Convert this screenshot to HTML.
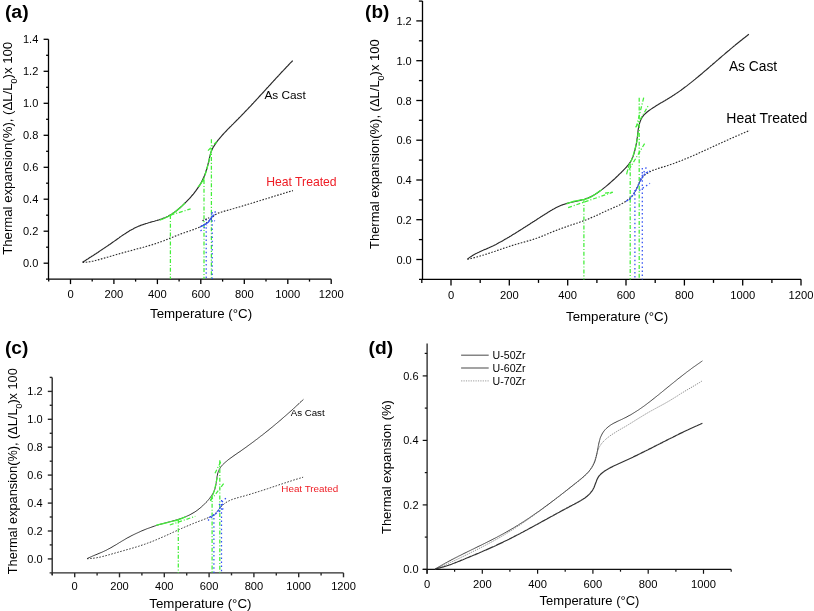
<!DOCTYPE html>
<html><head><meta charset="utf-8"><title>Thermal expansion curves</title>
<style>html,body{margin:0;padding:0;background:#fff;}svg{display:block;will-change:transform;}text{font-family:"Liberation Sans", sans-serif;}</style>
</head><body>
<svg width="814" height="611" viewBox="0 0 814 611">
<rect width="814" height="611" fill="#fff"/>
<line x1="48.5" y1="39.3" x2="48.5" y2="279.2" stroke="#000" stroke-width="1.30"/>
<line x1="46.0" y1="279.2" x2="331.2" y2="279.2" stroke="#000" stroke-width="1.30"/>
<line x1="70.5" y1="279.2" x2="70.5" y2="284.1" stroke="#000" stroke-width="1.30"/>
<line x1="113.9" y1="279.2" x2="113.9" y2="284.1" stroke="#000" stroke-width="1.30"/>
<line x1="157.4" y1="279.2" x2="157.4" y2="284.1" stroke="#000" stroke-width="1.30"/>
<line x1="200.8" y1="279.2" x2="200.8" y2="284.1" stroke="#000" stroke-width="1.30"/>
<line x1="244.3" y1="279.2" x2="244.3" y2="284.1" stroke="#000" stroke-width="1.30"/>
<line x1="287.8" y1="279.2" x2="287.8" y2="284.1" stroke="#000" stroke-width="1.30"/>
<line x1="331.2" y1="279.2" x2="331.2" y2="284.1" stroke="#000" stroke-width="1.30"/>
<line x1="48.7" y1="279.2" x2="48.7" y2="281.6" stroke="#000" stroke-width="1.30"/>
<line x1="92.2" y1="279.2" x2="92.2" y2="281.6" stroke="#000" stroke-width="1.30"/>
<line x1="135.6" y1="279.2" x2="135.6" y2="281.6" stroke="#000" stroke-width="1.30"/>
<line x1="179.1" y1="279.2" x2="179.1" y2="281.6" stroke="#000" stroke-width="1.30"/>
<line x1="222.6" y1="279.2" x2="222.6" y2="281.6" stroke="#000" stroke-width="1.30"/>
<line x1="266.0" y1="279.2" x2="266.0" y2="281.6" stroke="#000" stroke-width="1.30"/>
<line x1="309.5" y1="279.2" x2="309.5" y2="281.6" stroke="#000" stroke-width="1.30"/>
<line x1="43.6" y1="263.2" x2="48.5" y2="263.2" stroke="#000" stroke-width="1.30"/>
<line x1="43.6" y1="231.2" x2="48.5" y2="231.2" stroke="#000" stroke-width="1.30"/>
<line x1="43.6" y1="199.2" x2="48.5" y2="199.2" stroke="#000" stroke-width="1.30"/>
<line x1="43.6" y1="167.3" x2="48.5" y2="167.3" stroke="#000" stroke-width="1.30"/>
<line x1="43.6" y1="135.3" x2="48.5" y2="135.3" stroke="#000" stroke-width="1.30"/>
<line x1="43.6" y1="103.3" x2="48.5" y2="103.3" stroke="#000" stroke-width="1.30"/>
<line x1="43.6" y1="71.3" x2="48.5" y2="71.3" stroke="#000" stroke-width="1.30"/>
<line x1="43.6" y1="39.3" x2="48.5" y2="39.3" stroke="#000" stroke-width="1.30"/>
<line x1="46.1" y1="247.2" x2="48.5" y2="247.2" stroke="#000" stroke-width="1.30"/>
<line x1="46.1" y1="215.2" x2="48.5" y2="215.2" stroke="#000" stroke-width="1.30"/>
<line x1="46.1" y1="183.2" x2="48.5" y2="183.2" stroke="#000" stroke-width="1.30"/>
<line x1="46.1" y1="151.3" x2="48.5" y2="151.3" stroke="#000" stroke-width="1.30"/>
<line x1="46.1" y1="119.3" x2="48.5" y2="119.3" stroke="#000" stroke-width="1.30"/>
<line x1="46.1" y1="87.3" x2="48.5" y2="87.3" stroke="#000" stroke-width="1.30"/>
<line x1="46.1" y1="55.3" x2="48.5" y2="55.3" stroke="#000" stroke-width="1.30"/>
<text x="70.5" y="298.2" font-size="11.20" text-anchor="middle">0</text>
<text x="113.9" y="298.2" font-size="11.20" text-anchor="middle">200</text>
<text x="157.4" y="298.2" font-size="11.20" text-anchor="middle">400</text>
<text x="200.8" y="298.2" font-size="11.20" text-anchor="middle">600</text>
<text x="244.3" y="298.2" font-size="11.20" text-anchor="middle">800</text>
<text x="287.8" y="298.2" font-size="11.20" text-anchor="middle">1000</text>
<text x="331.2" y="298.2" font-size="11.20" text-anchor="middle">1200</text>
<text x="38.3" y="267.2" font-size="11.00" text-anchor="end">0.0</text>
<text x="38.3" y="235.2" font-size="11.00" text-anchor="end">0.2</text>
<text x="38.3" y="203.2" font-size="11.00" text-anchor="end">0.4</text>
<text x="38.3" y="171.3" font-size="11.00" text-anchor="end">0.6</text>
<text x="38.3" y="139.3" font-size="11.00" text-anchor="end">0.8</text>
<text x="38.3" y="107.3" font-size="11.00" text-anchor="end">1.0</text>
<text x="38.3" y="75.3" font-size="11.00" text-anchor="end">1.2</text>
<text x="38.3" y="43.3" font-size="11.00" text-anchor="end">1.4</text>
<text x="4.9" y="18.0" font-size="18.80" font-weight="bold" textLength="23.8" lengthAdjust="spacingAndGlyphs">(a)</text>
<text x="150.0" y="318.3" font-size="13.30">Temperature (°C)</text>
<text transform="translate(12.3,254.8) rotate(-90)" font-size="13.1" textLength="213" lengthAdjust="spacingAndGlyphs">Thermal expansion(%), (ΔL/L<tspan font-size="8.8" dy="5">0</tspan><tspan dy="-5">)x 100</tspan></text>
<text x="264.5" y="99.3" font-size="11.80">As Cast</text>
<text x="266.2" y="185.5" font-size="12.20" fill="#ee1c24">Heat Treated</text>
<path d="M82.6,262.3 L83.6,261.6 L84.7,260.9 L85.7,260.3 L86.7,259.6 L87.8,259.0 L88.8,258.3 L89.8,257.6 L90.8,257.0 L91.8,256.3 L92.8,255.7 L93.9,255.0 L94.9,254.3 L95.9,253.7 L96.9,253.0 L97.9,252.4 L98.8,251.7 L99.8,251.1 L100.8,250.4 L101.8,249.7 L102.8,249.1 L103.8,248.4 L104.8,247.7 L105.8,247.1 L106.8,246.4 L107.8,245.7 L108.7,245.0 L109.7,244.4 L110.7,243.7 L111.7,243.0 L112.7,242.3 L113.7,241.6 L114.7,240.9 L115.7,240.2 L116.7,239.5 L117.7,238.8 L118.7,238.1 L119.7,237.3 L120.7,236.6 L121.7,235.9 L122.7,235.2 L123.7,234.6 L124.7,233.9 L125.8,233.2 L126.8,232.5 L127.8,231.9 L128.9,231.3 L129.9,230.6 L131.0,230.0 L132.0,229.4 L133.1,228.9 L134.1,228.3 L135.2,227.8 L136.3,227.3 L137.4,226.8 L138.4,226.3 L139.5,225.9 L140.6,225.4 L141.7,225.0 L142.9,224.6 L144.0,224.2 L145.1,223.9 L146.2,223.5 L147.4,223.2 L148.5,222.8 L149.7,222.5 L150.9,222.1 L152.0,221.8 L153.2,221.5 L154.4,221.2 L155.6,220.8 L156.8,220.5 L158.0,220.1 L159.2,219.8 L160.3,219.4 L161.5,219.0 L162.6,218.6 L163.8,218.1 L164.9,217.7 L166.0,217.2 L167.1,216.7 L168.2,216.2 L169.2,215.6 L170.2,215.0 L171.3,214.4 L172.3,213.8 L173.2,213.1 L174.2,212.5 L175.1,211.7 L176.1,211.0 L177.0,210.3 L177.9,209.5 L178.8,208.8 L179.7,208.0 L180.6,207.2 L181.5,206.4 L182.4,205.6 L183.3,204.7 L184.1,203.9 L185.0,203.0 L185.9,202.2 L186.7,201.3 L187.6,200.4 L188.4,199.6 L189.3,198.7 L190.1,197.8 L190.9,196.9 L191.7,195.9 L192.5,195.0 L193.3,194.1 L194.1,193.1 L194.8,192.2 L195.6,191.2 L196.3,190.2 L197.0,189.2 L197.7,188.2 L198.4,187.2 L199.1,186.2 L199.7,185.2 L200.3,184.1 L200.9,183.1 L201.5,182.0 L202.1,180.9 L202.6,179.8 L203.1,178.7 L203.6,177.6 L204.1,176.5 L204.6,175.4 L205.0,174.2 L205.4,173.1 L205.8,172.0 L206.2,170.8 L206.5,169.7 L206.9,168.5 L207.2,167.3 L207.5,166.2 L207.8,165.0 L208.1,163.8 L208.4,162.7 L208.7,161.5 L209.0,160.4 L209.2,159.2 L209.4,158.1 L209.7,156.9 L210.0,155.8 L210.3,154.6 L210.6,153.5 L210.9,152.4 L211.3,151.3 L211.8,150.2 L212.3,149.1 L212.8,148.0 L213.4,147.0 L214.1,145.9 L214.7,144.9 L215.4,143.9 L216.1,142.9 L216.8,141.9 L217.5,140.9 L218.3,140.0 L219.0,139.0 L219.8,138.1 L220.6,137.2 L221.3,136.3 L222.1,135.4 L222.9,134.5 L223.7,133.6 L224.6,132.7 L225.4,131.8 L226.2,131.0 L227.0,130.1 L227.9,129.2 L228.7,128.4 L229.6,127.5 L230.4,126.7 L231.3,125.8 L232.1,124.9 L233.0,124.1 L233.9,123.2 L234.7,122.3 L235.6,121.5 L236.4,120.6 L237.3,119.8 L238.2,118.9 L239.0,118.0 L239.9,117.2 L240.7,116.3 L241.6,115.4 L242.4,114.5 L243.3,113.7 L244.1,112.8 L244.9,111.9 L245.8,111.0 L246.6,110.2 L247.5,109.3 L248.3,108.4 L249.1,107.5 L250.0,106.7 L250.8,105.8 L251.6,104.9 L252.4,104.0 L253.3,103.1 L254.1,102.2 L254.9,101.3 L255.7,100.5 L256.5,99.6 L257.4,98.7 L258.2,97.8 L259.0,96.9 L259.8,96.0 L260.6,95.1 L261.4,94.2 L262.3,93.4 L263.1,92.5 L263.9,91.6 L264.7,90.7 L265.5,89.8 L266.3,88.9 L267.1,88.0 L268.0,87.1 L268.8,86.2 L269.6,85.3 L270.4,84.5 L271.2,83.6 L272.0,82.7 L272.8,81.8 L273.6,80.9 L274.5,80.0 L275.3,79.1 L276.1,78.2 L276.9,77.3 L277.7,76.5 L278.6,75.6 L279.4,74.7 L280.2,73.8 L281.0,72.9 L281.8,72.0 L282.7,71.1 L283.5,70.3 L284.3,69.4 L285.2,68.5 L286.0,67.6 L286.8,66.7 L287.7,65.9 L288.5,65.0 L289.3,64.1 L290.2,63.2 L291.0,62.4 L291.9,61.5 L292.7,60.6" fill="none" stroke="#2a2a2a" stroke-width="1.15"/>
<path d="M82.6,262.3 L83.8,262.3 L85.0,262.2 L86.2,262.2 L87.3,262.0 L88.5,261.9 L89.7,261.7 L90.9,261.5 L92.1,261.3 L93.2,261.1 L94.4,260.8 L95.6,260.5 L96.8,260.2 L97.9,259.9 L99.1,259.6 L100.3,259.3 L101.5,258.9 L102.6,258.6 L103.8,258.3 L105.0,257.9 L106.2,257.6 L107.3,257.2 L108.5,256.9 L109.7,256.5 L110.8,256.2 L112.0,255.9 L113.2,255.5 L114.3,255.2 L115.5,254.9 L116.7,254.5 L117.8,254.2 L119.0,253.9 L120.2,253.5 L121.3,253.2 L122.5,252.9 L123.6,252.6 L124.8,252.2 L126.0,251.9 L127.1,251.6 L128.3,251.3 L129.4,251.0 L130.6,250.7 L131.8,250.4 L132.9,250.0 L134.1,249.7 L135.2,249.4 L136.4,249.1 L137.5,248.8 L138.7,248.5 L139.8,248.2 L141.0,247.9 L142.1,247.6 L143.3,247.3 L144.4,246.9 L145.6,246.6 L146.7,246.3 L147.9,246.0 L149.0,245.6 L150.2,245.3 L151.3,245.0 L152.5,244.6 L153.6,244.2 L154.8,243.9 L155.9,243.5 L157.1,243.1 L158.2,242.7 L159.4,242.3 L160.5,241.9 L161.7,241.5 L162.8,241.1 L163.9,240.7 L165.1,240.2 L166.2,239.8 L167.4,239.3 L168.5,238.9 L169.6,238.4 L170.8,238.0 L171.9,237.5 L173.1,237.0 L174.2,236.6 L175.3,236.1 L176.5,235.7 L177.6,235.2 L178.8,234.8 L179.9,234.4 L181.0,233.9 L182.2,233.5 L183.3,233.1 L184.4,232.7 L185.6,232.3 L186.7,231.9 L187.8,231.5 L189.0,231.1 L190.1,230.8 L191.2,230.4 L192.3,230.0 L193.4,229.6 L194.5,229.2 L195.6,228.8 L196.7,228.3 L197.8,227.9 L198.9,227.4 L200.0,226.9 L201.0,226.3 L202.1,225.7 L203.1,225.1 L204.1,224.5 L205.1,223.8 L206.1,223.1 L207.0,222.4 L208.0,221.7 L208.9,220.9 L209.7,220.1 L210.6,219.2 L211.4,218.3 L212.2,217.5 L213.0,216.6 L213.8,215.8 L214.7,215.0 L215.7,214.4 L216.7,213.8 L217.8,213.4 L218.9,212.9 L220.0,212.6 L221.2,212.2 L222.3,211.8 L223.5,211.5 L224.6,211.1 L225.8,210.8 L227.0,210.5 L228.1,210.1 L229.3,209.8 L230.5,209.5 L231.7,209.1 L232.8,208.8 L234.0,208.5 L235.2,208.1 L236.3,207.8 L237.5,207.5 L238.7,207.1 L239.8,206.8 L241.0,206.4 L242.1,206.1 L243.3,205.7 L244.5,205.4 L245.6,205.0 L246.8,204.7 L247.9,204.3 L249.1,204.0 L250.2,203.6 L251.4,203.3 L252.5,202.9 L253.7,202.6 L254.8,202.2 L256.0,201.9 L257.1,201.5 L258.3,201.2 L259.4,200.8 L260.6,200.5 L261.7,200.1 L262.9,199.7 L264.0,199.4 L265.2,199.0 L266.3,198.7 L267.5,198.3 L268.6,198.0 L269.8,197.6 L270.9,197.2 L272.1,196.9 L273.2,196.5 L274.4,196.2 L275.5,195.8 L276.7,195.5 L277.9,195.1 L279.0,194.8 L280.2,194.4 L281.3,194.1 L282.5,193.7 L283.6,193.4 L284.8,193.0 L285.9,192.7 L287.1,192.3 L288.3,192.0 L289.4,191.6 L290.6,191.3 L291.7,190.9 L292.9,190.6" fill="none" stroke="#2a2a2a" stroke-width="1.15" stroke-dasharray="1.6,1.5"/>
<path d="M159.7,220.1 C160.5,219.8 162.8,219.0 164.6,218.2 C166.4,217.4 168.1,216.8 170.5,215.2 C172.9,213.6 176.9,210.4 179.3,208.4 C181.8,206.4 184.2,203.9 185.2,203.0" fill="none" stroke="#44ee3a" stroke-width="1.25"/>
<path d="M198.0,186.8 C198.3,186.5 199.0,186.1 200.0,184.8 C201.0,183.5 203.2,179.9 203.9,178.9" fill="none" stroke="#44ee3a" stroke-width="1.25"/>
<path d="M202.9,181.7 C203.2,180.7 203.9,178.7 204.8,175.8 C205.7,173.0 207.2,167.9 208.1,164.6 C209.0,161.3 209.5,158.7 210.1,156.1 C210.7,153.5 211.2,150.1 211.4,148.9" fill="none" stroke="#44ee3a" stroke-width="1.25" stroke-dasharray="5,1.5"/>
<line x1="170.4" y1="215.0" x2="170.4" y2="279.0" stroke="#44ee3a" stroke-width="1.25" stroke-dasharray="4,1.9,1.1,1.8"/>
<line x1="170.5" y1="215.2" x2="190.6" y2="208.9" stroke="#44ee3a" stroke-width="1.25" stroke-dasharray="4,1.9,1.1,1.8"/>
<line x1="204.0" y1="180.0" x2="204.0" y2="279.0" stroke="#44ee3a" stroke-width="1.25" stroke-dasharray="4,1.9,1.1,1.8"/>
<line x1="211.4" y1="139.3" x2="211.4" y2="279.0" stroke="#44ee3a" stroke-width="1.25" stroke-dasharray="4,1.9,1.1,1.8"/>
<line x1="208.0" y1="150.6" x2="218.1" y2="140.2" stroke="#44ee3a" stroke-width="1.25" stroke-dasharray="4,1.9,1.1,1.8"/>
<line x1="206.2" y1="219.0" x2="206.2" y2="279.0" stroke="#3350f2" stroke-width="1.25" stroke-dasharray="1.5,2.6"/>
<line x1="212.2" y1="212.0" x2="212.2" y2="279.0" stroke="#3350f2" stroke-width="1.25" stroke-dasharray="1.5,2.6"/>
<path d="M199.9,227.1 C200.7,226.7 203.4,225.4 204.8,224.6 C206.2,223.8 207.4,223.1 208.3,222.2 C209.2,221.3 209.5,220.2 210.2,219.2 C210.8,218.2 211.5,217.1 212.2,216.3 C212.9,215.5 214.1,214.9 214.5,214.6" fill="none" stroke="#3350f2" stroke-width="1.25"/>
<line x1="200.5" y1="231.0" x2="207.0" y2="225.5" stroke="#3350f2" stroke-width="1.25" stroke-dasharray="1.5,2.6"/>
<line x1="211.0" y1="214.5" x2="216.0" y2="211.5" stroke="#3350f2" stroke-width="1.25" stroke-dasharray="1.5,2.6"/>
<line x1="210.5" y1="219.0" x2="215.0" y2="221.0" stroke="#3350f2" stroke-width="1.25" stroke-dasharray="1.5,2.6"/>
<line x1="202.4" y1="220.7" x2="209.2" y2="217.8" stroke="#2a2a2a" stroke-width="1.15" stroke-dasharray="1.6,1.5"/>
<line x1="422.5" y1="1.1" x2="422.5" y2="279.3" stroke="#000" stroke-width="1.30"/>
<line x1="419.0" y1="279.3" x2="801.0" y2="279.3" stroke="#000" stroke-width="1.30"/>
<line x1="451.0" y1="279.3" x2="451.0" y2="285.5" stroke="#000" stroke-width="1.30"/>
<line x1="509.3" y1="279.3" x2="509.3" y2="285.5" stroke="#000" stroke-width="1.30"/>
<line x1="567.7" y1="279.3" x2="567.7" y2="285.5" stroke="#000" stroke-width="1.30"/>
<line x1="626.0" y1="279.3" x2="626.0" y2="285.5" stroke="#000" stroke-width="1.30"/>
<line x1="684.4" y1="279.3" x2="684.4" y2="285.5" stroke="#000" stroke-width="1.30"/>
<line x1="742.7" y1="279.3" x2="742.7" y2="285.5" stroke="#000" stroke-width="1.30"/>
<line x1="801.0" y1="279.3" x2="801.0" y2="285.5" stroke="#000" stroke-width="1.30"/>
<line x1="421.8" y1="279.3" x2="421.8" y2="282.9" stroke="#000" stroke-width="1.30"/>
<line x1="480.2" y1="279.3" x2="480.2" y2="282.9" stroke="#000" stroke-width="1.30"/>
<line x1="538.5" y1="279.3" x2="538.5" y2="282.9" stroke="#000" stroke-width="1.30"/>
<line x1="596.9" y1="279.3" x2="596.9" y2="282.9" stroke="#000" stroke-width="1.30"/>
<line x1="655.2" y1="279.3" x2="655.2" y2="282.9" stroke="#000" stroke-width="1.30"/>
<line x1="713.5" y1="279.3" x2="713.5" y2="282.9" stroke="#000" stroke-width="1.30"/>
<line x1="771.9" y1="279.3" x2="771.9" y2="282.9" stroke="#000" stroke-width="1.30"/>
<line x1="416.3" y1="259.5" x2="422.5" y2="259.5" stroke="#000" stroke-width="1.30"/>
<line x1="416.3" y1="219.7" x2="422.5" y2="219.7" stroke="#000" stroke-width="1.30"/>
<line x1="416.3" y1="180.0" x2="422.5" y2="180.0" stroke="#000" stroke-width="1.30"/>
<line x1="416.3" y1="140.2" x2="422.5" y2="140.2" stroke="#000" stroke-width="1.30"/>
<line x1="416.3" y1="100.5" x2="422.5" y2="100.5" stroke="#000" stroke-width="1.30"/>
<line x1="416.3" y1="60.7" x2="422.5" y2="60.7" stroke="#000" stroke-width="1.30"/>
<line x1="416.3" y1="20.9" x2="422.5" y2="20.9" stroke="#000" stroke-width="1.30"/>
<line x1="418.9" y1="239.6" x2="422.5" y2="239.6" stroke="#000" stroke-width="1.30"/>
<line x1="418.9" y1="199.9" x2="422.5" y2="199.9" stroke="#000" stroke-width="1.30"/>
<line x1="418.9" y1="160.1" x2="422.5" y2="160.1" stroke="#000" stroke-width="1.30"/>
<line x1="418.9" y1="120.3" x2="422.5" y2="120.3" stroke="#000" stroke-width="1.30"/>
<line x1="418.9" y1="80.6" x2="422.5" y2="80.6" stroke="#000" stroke-width="1.30"/>
<line x1="418.9" y1="40.8" x2="422.5" y2="40.8" stroke="#000" stroke-width="1.30"/>
<line x1="418.9" y1="1.1" x2="422.5" y2="1.1" stroke="#000" stroke-width="1.30"/>
<text x="451.0" y="298.8" font-size="11.20" text-anchor="middle">0</text>
<text x="509.3" y="298.8" font-size="11.20" text-anchor="middle">200</text>
<text x="567.7" y="298.8" font-size="11.20" text-anchor="middle">400</text>
<text x="626.0" y="298.8" font-size="11.20" text-anchor="middle">600</text>
<text x="684.4" y="298.8" font-size="11.20" text-anchor="middle">800</text>
<text x="742.7" y="298.8" font-size="11.20" text-anchor="middle">1000</text>
<text x="801.0" y="298.8" font-size="11.20" text-anchor="middle">1200</text>
<text x="411.7" y="263.5" font-size="11.00" text-anchor="end">0.0</text>
<text x="411.7" y="223.7" font-size="11.00" text-anchor="end">0.2</text>
<text x="411.7" y="184.0" font-size="11.00" text-anchor="end">0.4</text>
<text x="411.7" y="144.2" font-size="11.00" text-anchor="end">0.6</text>
<text x="411.7" y="104.5" font-size="11.00" text-anchor="end">0.8</text>
<text x="411.7" y="64.7" font-size="11.00" text-anchor="end">1.0</text>
<text x="411.7" y="24.9" font-size="11.00" text-anchor="end">1.2</text>
<text x="365.1" y="18.0" font-size="18.80" font-weight="bold" textLength="24.2" lengthAdjust="spacingAndGlyphs">(b)</text>
<text x="566.0" y="320.8" font-size="13.30">Temperature (°C)</text>
<text transform="translate(379.1,249) rotate(-90)" font-size="12.9" textLength="209.6" lengthAdjust="spacingAndGlyphs">Thermal expansion(%), (ΔL/L<tspan font-size="8.8" dy="5">0</tspan><tspan dy="-5">)x 100</tspan></text>
<text x="728.9" y="70.9" font-size="13.80">As Cast</text>
<text x="726.3" y="123.2" font-size="14.00">Heat Treated</text>
<path d="M467.4,259.2 L468.4,258.4 L469.4,257.6 L470.4,256.9 L471.5,256.2 L472.5,255.5 L473.5,254.9 L474.6,254.3 L475.6,253.7 L476.7,253.2 L477.7,252.7 L478.8,252.2 L479.8,251.7 L480.9,251.2 L482.0,250.7 L483.0,250.3 L484.1,249.8 L485.2,249.4 L486.3,248.9 L487.4,248.4 L488.4,248.0 L489.5,247.5 L490.6,247.0 L491.7,246.5 L492.8,246.0 L493.8,245.5 L494.9,244.9 L496.0,244.4 L497.1,243.8 L498.1,243.2 L499.2,242.6 L500.3,242.1 L501.4,241.5 L502.4,240.9 L503.5,240.3 L504.6,239.6 L505.6,239.0 L506.7,238.4 L507.7,237.8 L508.8,237.2 L509.8,236.5 L510.9,235.9 L511.9,235.3 L513.0,234.6 L514.0,234.0 L515.0,233.4 L516.0,232.7 L517.1,232.1 L518.1,231.5 L519.1,230.8 L520.1,230.2 L521.1,229.6 L522.1,228.9 L523.1,228.3 L524.2,227.6 L525.2,227.0 L526.2,226.3 L527.2,225.7 L528.2,225.0 L529.2,224.4 L530.2,223.8 L531.2,223.1 L532.2,222.5 L533.2,221.8 L534.2,221.2 L535.2,220.5 L536.2,219.9 L537.2,219.2 L538.2,218.6 L539.2,217.9 L540.3,217.3 L541.3,216.6 L542.3,216.0 L543.3,215.3 L544.3,214.7 L545.3,214.0 L546.4,213.4 L547.4,212.7 L548.4,212.1 L549.5,211.4 L550.5,210.8 L551.6,210.2 L552.6,209.6 L553.7,209.0 L554.7,208.4 L555.8,207.8 L556.9,207.3 L558.0,206.8 L559.1,206.3 L560.2,205.8 L561.3,205.3 L562.4,204.9 L563.5,204.5 L564.7,204.1 L565.8,203.7 L567.0,203.4 L568.2,203.1 L569.3,202.8 L570.5,202.5 L571.7,202.3 L572.9,202.0 L574.1,201.7 L575.2,201.5 L576.4,201.2 L577.6,201.0 L578.8,200.7 L580.0,200.4 L581.1,200.1 L582.3,199.8 L583.4,199.5 L584.6,199.2 L585.7,198.8 L586.8,198.4 L587.9,198.0 L589.0,197.5 L590.1,197.0 L591.2,196.5 L592.2,195.9 L593.3,195.4 L594.3,194.8 L595.3,194.2 L596.3,193.5 L597.3,192.9 L598.3,192.2 L599.3,191.5 L600.3,190.8 L601.3,190.1 L602.2,189.4 L603.2,188.6 L604.1,187.9 L605.1,187.1 L606.0,186.4 L606.9,185.6 L607.9,184.8 L608.8,184.0 L609.7,183.2 L610.6,182.4 L611.5,181.6 L612.4,180.8 L613.3,180.0 L614.2,179.2 L615.1,178.4 L616.0,177.5 L616.8,176.7 L617.7,175.9 L618.6,175.0 L619.4,174.2 L620.3,173.3 L621.2,172.5 L622.0,171.6 L622.9,170.8 L623.7,169.9 L624.5,169.1 L625.4,168.2 L626.2,167.3 L627.0,166.4 L627.8,165.5 L628.5,164.6 L629.2,163.7 L629.9,162.7 L630.5,161.7 L631.1,160.7 L631.7,159.6 L632.2,158.6 L632.6,157.5 L633.1,156.4 L633.5,155.2 L633.8,154.1 L634.2,152.9 L634.5,151.7 L634.8,150.6 L635.1,149.4 L635.4,148.2 L635.7,147.0 L635.9,145.8 L636.1,144.6 L636.4,143.4 L636.6,142.2 L636.8,141.0 L636.9,139.8 L637.1,138.6 L637.3,137.4 L637.4,136.2 L637.6,135.0 L637.7,133.8 L637.9,132.6 L638.0,131.4 L638.1,130.2 L638.3,129.0 L638.5,127.8 L638.7,126.6 L639.0,125.4 L639.3,124.3 L639.6,123.1 L640.0,122.0 L640.4,120.9 L640.8,119.8 L641.4,118.8 L641.9,117.7 L642.5,116.8 L643.2,115.8 L644.0,114.9 L644.8,114.1 L645.7,113.3 L646.5,112.5 L647.5,111.7 L648.4,111.0 L649.4,110.3 L650.4,109.6 L651.4,108.9 L652.4,108.2 L653.4,107.5 L654.4,106.9 L655.5,106.2 L656.5,105.6 L657.5,105.0 L658.6,104.3 L659.6,103.7 L660.6,103.1 L661.7,102.5 L662.7,101.9 L663.7,101.3 L664.8,100.7 L665.8,100.0 L666.9,99.4 L667.9,98.8 L668.9,98.2 L669.9,97.6 L671.0,96.9 L672.0,96.3 L673.0,95.6 L674.0,95.0 L675.0,94.3 L676.0,93.6 L677.0,92.9 L678.0,92.3 L679.0,91.6 L680.0,90.9 L681.0,90.2 L681.9,89.5 L682.9,88.8 L683.9,88.0 L684.8,87.3 L685.8,86.6 L686.8,85.9 L687.7,85.1 L688.7,84.4 L689.6,83.6 L690.6,82.9 L691.5,82.1 L692.5,81.4 L693.4,80.6 L694.3,79.9 L695.3,79.1 L696.2,78.3 L697.1,77.6 L698.1,76.8 L699.0,76.0 L699.9,75.3 L700.8,74.5 L701.8,73.7 L702.7,72.9 L703.6,72.1 L704.5,71.3 L705.4,70.6 L706.4,69.8 L707.3,69.0 L708.2,68.2 L709.1,67.4 L710.0,66.6 L710.9,65.8 L711.8,65.1 L712.7,64.3 L713.6,63.5 L714.6,62.7 L715.5,61.9 L716.4,61.1 L717.3,60.3 L718.2,59.6 L719.1,58.8 L720.0,58.0 L720.9,57.2 L721.8,56.4 L722.7,55.6 L723.7,54.9 L724.6,54.1 L725.5,53.3 L726.4,52.5 L727.3,51.7 L728.2,51.0 L729.2,50.2 L730.1,49.4 L731.0,48.6 L731.9,47.9 L732.8,47.1 L733.8,46.3 L734.7,45.6 L735.6,44.8 L736.6,44.0 L737.5,43.3 L738.4,42.5 L739.4,41.8 L740.3,41.0 L741.3,40.2 L742.2,39.5 L743.1,38.7 L744.1,38.0 L745.1,37.3 L746.0,36.5 L747.0,35.8 L747.9,35.0 L748.9,34.3" fill="none" stroke="#2a2a2a" stroke-width="1.15"/>
<path d="M467.4,259.2 L468.6,259.0 L469.7,258.7 L470.9,258.5 L472.1,258.2 L473.2,257.9 L474.4,257.6 L475.5,257.3 L476.7,257.0 L477.9,256.7 L479.0,256.4 L480.2,256.0 L481.3,255.7 L482.5,255.3 L483.7,255.0 L484.8,254.6 L486.0,254.2 L487.1,253.9 L488.3,253.5 L489.4,253.1 L490.6,252.7 L491.8,252.3 L492.9,251.9 L494.1,251.5 L495.2,251.2 L496.4,250.8 L497.5,250.4 L498.7,250.0 L499.8,249.6 L501.0,249.2 L502.2,248.8 L503.3,248.4 L504.5,248.0 L505.6,247.6 L506.8,247.2 L507.9,246.8 L509.1,246.5 L510.2,246.1 L511.4,245.7 L512.5,245.4 L513.7,245.0 L514.8,244.7 L516.0,244.3 L517.1,244.0 L518.3,243.7 L519.4,243.3 L520.6,243.0 L521.7,242.7 L522.9,242.4 L524.0,242.1 L525.2,241.7 L526.3,241.4 L527.4,241.1 L528.6,240.8 L529.7,240.4 L530.9,240.1 L532.0,239.7 L533.2,239.4 L534.3,239.0 L535.4,238.6 L536.6,238.2 L537.7,237.8 L538.9,237.4 L540.0,237.0 L541.1,236.5 L542.3,236.1 L543.4,235.6 L544.6,235.1 L545.7,234.7 L546.8,234.2 L548.0,233.7 L549.1,233.3 L550.2,232.8 L551.4,232.3 L552.5,231.9 L553.6,231.4 L554.8,231.0 L555.9,230.5 L557.0,230.1 L558.2,229.7 L559.3,229.2 L560.4,228.8 L561.6,228.4 L562.7,228.0 L563.8,227.6 L565.0,227.2 L566.1,226.8 L567.2,226.4 L568.3,226.0 L569.5,225.6 L570.6,225.2 L571.7,224.8 L572.8,224.5 L574.0,224.1 L575.1,223.7 L576.2,223.3 L577.4,223.0 L578.5,222.6 L579.6,222.2 L580.7,221.8 L581.9,221.4 L583.0,221.0 L584.1,220.6 L585.2,220.2 L586.4,219.8 L587.5,219.3 L588.6,218.9 L589.7,218.4 L590.8,217.9 L592.0,217.4 L593.1,217.0 L594.2,216.5 L595.3,215.9 L596.5,215.4 L597.6,214.9 L598.7,214.4 L599.8,213.9 L600.9,213.4 L602.1,212.8 L603.2,212.3 L604.3,211.8 L605.4,211.3 L606.5,210.8 L607.6,210.3 L608.7,209.8 L609.8,209.3 L610.9,208.9 L612.0,208.4 L613.1,207.9 L614.1,207.4 L615.2,207.0 L616.3,206.5 L617.4,206.0 L618.4,205.5 L619.5,205.0 L620.5,204.4 L621.6,203.8 L622.6,203.3 L623.6,202.7 L624.7,202.0 L625.7,201.4 L626.7,200.7 L627.7,199.9 L628.7,199.1 L629.6,198.3 L630.6,197.5 L631.4,196.6 L632.3,195.7 L633.0,194.8 L633.8,193.8 L634.4,192.8 L635.0,191.8 L635.6,190.7 L636.1,189.7 L636.6,188.6 L637.1,187.5 L637.6,186.4 L638.1,185.3 L638.5,184.2 L639.0,183.1 L639.5,182.0 L640.1,181.0 L640.7,180.0 L641.3,179.0 L642.0,178.0 L642.7,177.1 L643.5,176.2 L644.4,175.4 L645.3,174.6 L646.3,173.9 L647.3,173.2 L648.4,172.5 L649.4,171.9 L650.5,171.4 L651.6,170.9 L652.7,170.4 L653.8,170.0 L654.9,169.5 L656.0,169.2 L657.1,168.8 L658.2,168.4 L659.3,168.1 L660.5,167.8 L661.6,167.4 L662.7,167.1 L663.9,166.7 L665.0,166.4 L666.2,166.0 L667.3,165.7 L668.4,165.3 L669.6,164.9 L670.7,164.5 L671.9,164.1 L673.1,163.7 L674.2,163.3 L675.4,162.8 L676.5,162.4 L677.7,162.0 L678.8,161.5 L679.9,161.1 L681.1,160.6 L682.2,160.2 L683.4,159.7 L684.5,159.3 L685.6,158.8 L686.7,158.4 L687.9,157.9 L689.0,157.4 L690.1,156.9 L691.2,156.5 L692.3,156.0 L693.5,155.5 L694.6,155.0 L695.7,154.5 L696.8,154.1 L697.9,153.6 L699.0,153.1 L700.1,152.6 L701.2,152.1 L702.3,151.6 L703.4,151.1 L704.5,150.6 L705.6,150.1 L706.7,149.6 L707.8,149.1 L708.9,148.6 L710.0,148.1 L711.1,147.6 L712.1,147.1 L713.2,146.6 L714.3,146.1 L715.4,145.6 L716.5,145.1 L717.6,144.6 L718.7,144.1 L719.8,143.6 L720.9,143.1 L722.0,142.6 L723.1,142.1 L724.2,141.6 L725.3,141.1 L726.4,140.6 L727.5,140.1 L728.5,139.6 L729.6,139.1 L730.7,138.6 L731.8,138.1 L732.9,137.6 L734.1,137.1 L735.2,136.6 L736.3,136.1 L737.4,135.7 L738.5,135.2 L739.6,134.7 L740.7,134.2 L741.8,133.7 L742.9,133.3 L744.1,132.8 L745.2,132.3 L746.3,131.9 L747.4,131.4 L748.6,131.0 L749.7,130.5" fill="none" stroke="#2a2a2a" stroke-width="1.15" stroke-dasharray="1.6,1.5"/>
<path d="M566.5,203.8 C567.8,203.4 571.4,201.9 574.2,201.2 C577.0,200.5 580.3,200.4 583.1,199.7 C585.9,199.0 587.7,198.8 590.8,197.1 C593.9,195.4 600.0,190.7 601.9,189.4" fill="none" stroke="#44ee3a" stroke-width="1.25"/>
<path d="M626.6,174.3 C627.0,172.7 628.4,167.0 629.3,164.4 C630.2,161.8 631.1,161.4 632.0,159.0 C632.9,156.6 633.9,153.2 634.7,150.0 C635.6,146.8 636.5,143.2 637.1,140.0 C637.7,136.8 638.1,132.5 638.3,131.0" fill="none" stroke="#44ee3a" stroke-width="1.25" stroke-dasharray="5,1.5"/>
<line x1="583.9" y1="199.0" x2="583.9" y2="279.5" stroke="#44ee3a" stroke-width="1.25" stroke-dasharray="4,1.9,1.1,1.8"/>
<line x1="568.1" y1="207.6" x2="612.9" y2="192.2" stroke="#44ee3a" stroke-width="1.25" stroke-dasharray="4,1.9,1.1,1.8"/>
<line x1="630.2" y1="163.5" x2="630.2" y2="279.5" stroke="#44ee3a" stroke-width="1.25" stroke-dasharray="4,1.9,1.1,1.8"/>
<line x1="639.2" y1="97.7" x2="639.2" y2="279.5" stroke="#44ee3a" stroke-width="1.25" stroke-dasharray="4,1.9,1.1,1.8"/>
<line x1="635.6" y1="127.4" x2="648.2" y2="105.8" stroke="#44ee3a" stroke-width="1.25" stroke-dasharray="4,1.9,1.1,1.8"/>
<line x1="643.7" y1="97.7" x2="636.5" y2="126.5" stroke="#44ee3a" stroke-width="1.25" stroke-dasharray="4,1.9,1.1,1.8"/>
<line x1="644.6" y1="143.6" x2="628.4" y2="170.7" stroke="#44ee3a" stroke-width="1.25" stroke-dasharray="4,1.9,1.1,1.8"/>
<line x1="605.0" y1="193.2" x2="612.2" y2="192.3" stroke="#44ee3a" stroke-width="1.25" stroke-dasharray="4,1.9,1.1,1.8"/>
<line x1="634.9" y1="190.0" x2="634.9" y2="279.5" stroke="#3350f2" stroke-width="1.25" stroke-dasharray="1.5,2.6"/>
<line x1="642.3" y1="168.0" x2="642.3" y2="279.5" stroke="#3350f2" stroke-width="1.25" stroke-dasharray="1.5,2.6"/>
<path d="M626.0,201.2 C626.7,200.8 628.5,200.5 630.2,198.6 C631.9,196.7 634.2,193.2 636.0,190.0 C637.8,186.8 639.4,182.5 641.0,179.7 C642.6,176.9 644.0,174.8 645.5,173.4 C647.0,172.0 649.2,171.4 650.0,171.0" fill="none" stroke="#3350f2" stroke-width="1.25" stroke-dasharray="2.5,1"/>
<line x1="640.1" y1="179.7" x2="646.4" y2="167.1" stroke="#3350f2" stroke-width="1.25" stroke-dasharray="1.5,2.6"/>
<line x1="639.2" y1="190.5" x2="650.0" y2="183.3" stroke="#3350f2" stroke-width="1.25" stroke-dasharray="1.5,2.6"/>
<line x1="52.2" y1="377.4" x2="52.2" y2="574.9" stroke="#2a2a2a" stroke-width="1.40"/>
<line x1="49.6" y1="572.9" x2="343.5" y2="572.9" stroke="#2a2a2a" stroke-width="1.40"/>
<line x1="74.7" y1="572.9" x2="74.7" y2="577.3" stroke="#2a2a2a" stroke-width="1.40"/>
<line x1="119.5" y1="572.9" x2="119.5" y2="577.3" stroke="#2a2a2a" stroke-width="1.40"/>
<line x1="164.3" y1="572.9" x2="164.3" y2="577.3" stroke="#2a2a2a" stroke-width="1.40"/>
<line x1="209.1" y1="572.9" x2="209.1" y2="577.3" stroke="#2a2a2a" stroke-width="1.40"/>
<line x1="253.9" y1="572.9" x2="253.9" y2="577.3" stroke="#2a2a2a" stroke-width="1.40"/>
<line x1="298.7" y1="572.9" x2="298.7" y2="577.3" stroke="#2a2a2a" stroke-width="1.40"/>
<line x1="343.5" y1="572.9" x2="343.5" y2="577.3" stroke="#2a2a2a" stroke-width="1.40"/>
<line x1="52.3" y1="572.9" x2="52.3" y2="575.4" stroke="#2a2a2a" stroke-width="1.40"/>
<line x1="97.1" y1="572.9" x2="97.1" y2="575.4" stroke="#2a2a2a" stroke-width="1.40"/>
<line x1="141.9" y1="572.9" x2="141.9" y2="575.4" stroke="#2a2a2a" stroke-width="1.40"/>
<line x1="186.7" y1="572.9" x2="186.7" y2="575.4" stroke="#2a2a2a" stroke-width="1.40"/>
<line x1="231.5" y1="572.9" x2="231.5" y2="575.4" stroke="#2a2a2a" stroke-width="1.40"/>
<line x1="276.3" y1="572.9" x2="276.3" y2="575.4" stroke="#2a2a2a" stroke-width="1.40"/>
<line x1="321.1" y1="572.9" x2="321.1" y2="575.4" stroke="#2a2a2a" stroke-width="1.40"/>
<line x1="47.8" y1="558.9" x2="52.2" y2="558.9" stroke="#2a2a2a" stroke-width="1.40"/>
<line x1="47.8" y1="531.0" x2="52.2" y2="531.0" stroke="#2a2a2a" stroke-width="1.40"/>
<line x1="47.8" y1="503.1" x2="52.2" y2="503.1" stroke="#2a2a2a" stroke-width="1.40"/>
<line x1="47.8" y1="475.1" x2="52.2" y2="475.1" stroke="#2a2a2a" stroke-width="1.40"/>
<line x1="47.8" y1="447.2" x2="52.2" y2="447.2" stroke="#2a2a2a" stroke-width="1.40"/>
<line x1="47.8" y1="419.3" x2="52.2" y2="419.3" stroke="#2a2a2a" stroke-width="1.40"/>
<line x1="47.8" y1="391.4" x2="52.2" y2="391.4" stroke="#2a2a2a" stroke-width="1.40"/>
<line x1="49.7" y1="544.9" x2="52.2" y2="544.9" stroke="#2a2a2a" stroke-width="1.40"/>
<line x1="49.7" y1="517.0" x2="52.2" y2="517.0" stroke="#2a2a2a" stroke-width="1.40"/>
<line x1="49.7" y1="489.1" x2="52.2" y2="489.1" stroke="#2a2a2a" stroke-width="1.40"/>
<line x1="49.7" y1="461.2" x2="52.2" y2="461.2" stroke="#2a2a2a" stroke-width="1.40"/>
<line x1="49.7" y1="433.3" x2="52.2" y2="433.3" stroke="#2a2a2a" stroke-width="1.40"/>
<line x1="49.7" y1="405.3" x2="52.2" y2="405.3" stroke="#2a2a2a" stroke-width="1.40"/>
<line x1="49.7" y1="377.4" x2="52.2" y2="377.4" stroke="#2a2a2a" stroke-width="1.40"/>
<text x="74.7" y="590.0" font-size="11.10" text-anchor="middle">0</text>
<text x="119.5" y="590.0" font-size="11.10" text-anchor="middle">200</text>
<text x="164.3" y="590.0" font-size="11.10" text-anchor="middle">400</text>
<text x="209.1" y="590.0" font-size="11.10" text-anchor="middle">600</text>
<text x="253.9" y="590.0" font-size="11.10" text-anchor="middle">800</text>
<text x="298.7" y="590.0" font-size="11.10" text-anchor="middle">1000</text>
<text x="343.5" y="590.0" font-size="11.10" text-anchor="middle">1200</text>
<text x="42.6" y="562.9" font-size="11.00" text-anchor="end">0.0</text>
<text x="42.6" y="535.0" font-size="11.00" text-anchor="end">0.2</text>
<text x="42.6" y="507.1" font-size="11.00" text-anchor="end">0.4</text>
<text x="42.6" y="479.1" font-size="11.00" text-anchor="end">0.6</text>
<text x="42.6" y="451.2" font-size="11.00" text-anchor="end">0.8</text>
<text x="42.6" y="423.3" font-size="11.00" text-anchor="end">1.0</text>
<text x="42.6" y="395.4" font-size="11.00" text-anchor="end">1.2</text>
<text x="4.9" y="354.2" font-size="18.80" font-weight="bold" textLength="23.4" lengthAdjust="spacingAndGlyphs">(c)</text>
<text x="149.3" y="607.7" font-size="13.30">Temperature (°C)</text>
<text transform="translate(16.9,574.2) rotate(-90)" font-size="12.8" textLength="206" lengthAdjust="spacingAndGlyphs">Thermal expansion(%), (ΔL/L<tspan font-size="8.8" dy="5">0</tspan><tspan dy="-5">)x 100</tspan></text>
<text x="290.7" y="416.2" font-size="9.70">As Cast</text>
<text x="281.3" y="491.9" font-size="9.85" fill="#ee1c24">Heat Treated</text>
<path d="M87.0,558.7 L88.1,558.1 L89.2,557.6 L90.4,557.1 L91.5,556.6 L92.6,556.1 L93.7,555.6 L94.8,555.2 L95.9,554.7 L97.0,554.3 L98.0,553.8 L99.1,553.4 L100.2,552.9 L101.3,552.5 L102.4,552.0 L103.5,551.5 L104.5,551.0 L105.6,550.5 L106.7,550.0 L107.7,549.4 L108.8,548.8 L109.9,548.3 L110.9,547.7 L112.0,547.1 L113.1,546.4 L114.1,545.8 L115.2,545.2 L116.3,544.6 L117.3,543.9 L118.4,543.3 L119.4,542.6 L120.5,542.0 L121.6,541.3 L122.6,540.7 L123.7,540.1 L124.7,539.5 L125.8,538.8 L126.9,538.2 L127.9,537.6 L129.0,537.1 L130.1,536.5 L131.1,535.9 L132.2,535.4 L133.3,534.8 L134.4,534.3 L135.4,533.8 L136.5,533.3 L137.6,532.8 L138.7,532.3 L139.8,531.8 L140.8,531.3 L141.9,530.8 L143.0,530.4 L144.1,529.9 L145.2,529.5 L146.3,529.0 L147.4,528.6 L148.6,528.2 L149.7,527.8 L150.8,527.4 L151.9,527.0 L153.0,526.6 L154.2,526.2 L155.3,525.8 L156.4,525.5 L157.6,525.1 L158.7,524.8 L159.9,524.4 L161.1,524.1 L162.2,523.8 L163.4,523.4 L164.6,523.1 L165.7,522.8 L166.9,522.5 L168.1,522.2 L169.3,521.9 L170.5,521.6 L171.6,521.3 L172.8,520.9 L174.0,520.6 L175.2,520.3 L176.3,519.9 L177.5,519.6 L178.7,519.2 L179.8,518.8 L181.0,518.5 L182.1,518.1 L183.3,517.7 L184.4,517.2 L185.5,516.8 L186.6,516.3 L187.7,515.8 L188.8,515.3 L189.9,514.8 L190.9,514.2 L192.0,513.6 L193.0,513.0 L194.1,512.4 L195.1,511.8 L196.1,511.1 L197.1,510.4 L198.0,509.7 L199.0,508.9 L199.9,508.2 L200.9,507.4 L201.8,506.6 L202.7,505.8 L203.6,504.9 L204.4,504.1 L205.3,503.2 L206.1,502.4 L207.0,501.5 L207.8,500.5 L208.6,499.6 L209.3,498.7 L210.1,497.7 L210.8,496.7 L211.5,495.8 L212.1,494.8 L212.8,493.7 L213.3,492.7 L213.9,491.6 L214.3,490.5 L214.8,489.4 L215.1,488.3 L215.4,487.1 L215.7,485.9 L215.9,484.7 L216.1,483.5 L216.3,482.3 L216.4,481.1 L216.6,479.9 L216.8,478.7 L216.9,477.5 L217.1,476.3 L217.4,475.1 L217.6,474.0 L217.9,472.8 L218.3,471.7 L218.8,470.6 L219.2,469.6 L219.8,468.6 L220.4,467.6 L221.1,466.6 L221.9,465.6 L222.7,464.7 L223.6,463.8 L224.5,463.0 L225.4,462.2 L226.4,461.4 L227.3,460.6 L228.2,459.8 L229.2,459.1 L230.1,458.4 L231.1,457.7 L232.1,457.0 L233.0,456.3 L234.0,455.6 L235.0,454.9 L235.9,454.3 L236.9,453.6 L237.9,452.9 L238.9,452.2 L239.9,451.6 L240.9,450.9 L241.8,450.2 L242.8,449.5 L243.8,448.8 L244.8,448.1 L245.8,447.4 L246.8,446.7 L247.8,445.9 L248.8,445.2 L249.7,444.5 L250.7,443.8 L251.7,443.1 L252.7,442.3 L253.7,441.6 L254.6,440.9 L255.6,440.1 L256.6,439.4 L257.6,438.7 L258.5,437.9 L259.5,437.2 L260.4,436.4 L261.4,435.7 L262.4,435.0 L263.3,434.2 L264.3,433.5 L265.2,432.7 L266.1,432.0 L267.1,431.2 L268.0,430.5 L269.0,429.7 L269.9,428.9 L270.8,428.2 L271.8,427.4 L272.7,426.7 L273.6,425.9 L274.6,425.1 L275.5,424.3 L276.4,423.6 L277.3,422.8 L278.3,422.0 L279.2,421.2 L280.1,420.5 L281.0,419.7 L281.9,418.9 L282.8,418.1 L283.7,417.3 L284.6,416.5 L285.6,415.7 L286.5,414.9 L287.4,414.1 L288.3,413.3 L289.2,412.5 L290.1,411.7 L291.0,410.9 L291.9,410.1 L292.8,409.3 L293.6,408.5 L294.5,407.7 L295.4,406.9 L296.3,406.0 L297.2,405.2 L298.1,404.4 L299.0,403.6 L299.9,402.7 L300.8,401.9 L301.6,401.1 L302.5,400.2 L303.4,399.4" fill="none" stroke="#333" stroke-width="1.00"/>
<path d="M87.0,558.7 L88.2,558.7 L89.4,558.6 L90.6,558.5 L91.8,558.4 L93.0,558.3 L94.2,558.1 L95.4,558.0 L96.6,557.8 L97.8,557.5 L99.0,557.3 L100.2,557.1 L101.4,556.8 L102.6,556.5 L103.8,556.2 L105.0,555.9 L106.1,555.6 L107.3,555.3 L108.5,554.9 L109.7,554.6 L110.9,554.3 L112.0,553.9 L113.2,553.6 L114.4,553.3 L115.5,552.9 L116.7,552.6 L117.9,552.3 L119.0,551.9 L120.2,551.6 L121.4,551.3 L122.5,550.9 L123.7,550.6 L124.8,550.3 L126.0,550.0 L127.1,549.6 L128.3,549.3 L129.4,549.0 L130.6,548.7 L131.7,548.3 L132.9,548.0 L134.0,547.7 L135.2,547.3 L136.3,547.0 L137.5,546.6 L138.6,546.3 L139.7,545.9 L140.9,545.5 L142.0,545.1 L143.2,544.8 L144.3,544.4 L145.4,544.0 L146.6,543.6 L147.7,543.1 L148.8,542.7 L150.0,542.3 L151.1,541.9 L152.2,541.4 L153.3,541.0 L154.5,540.5 L155.6,540.0 L156.7,539.6 L157.8,539.1 L159.0,538.6 L160.1,538.1 L161.2,537.6 L162.3,537.2 L163.5,536.7 L164.6,536.2 L165.7,535.7 L166.8,535.2 L167.9,534.7 L169.1,534.2 L170.2,533.7 L171.3,533.1 L172.4,532.6 L173.5,532.1 L174.6,531.6 L175.8,531.1 L176.9,530.6 L178.0,530.1 L179.1,529.6 L180.2,529.1 L181.3,528.6 L182.4,528.1 L183.6,527.6 L184.7,527.1 L185.8,526.6 L186.9,526.2 L188.0,525.7 L189.1,525.2 L190.2,524.8 L191.3,524.3 L192.5,523.8 L193.6,523.4 L194.7,522.9 L195.8,522.5 L196.9,522.1 L198.0,521.7 L199.1,521.2 L200.2,520.8 L201.4,520.4 L202.5,520.0 L203.6,519.5 L204.7,519.1 L205.8,518.7 L206.9,518.2 L208.0,517.8 L209.1,517.3 L210.2,516.8 L211.3,516.2 L212.3,515.6 L213.4,515.0 L214.3,514.3 L215.2,513.5 L216.1,512.7 L216.9,511.8 L217.7,510.9 L218.5,510.0 L219.3,509.0 L220.0,508.1 L220.8,507.2 L221.6,506.4 L222.4,505.5 L223.3,504.7 L224.1,503.9 L225.1,503.2 L226.0,502.5 L227.0,501.9 L228.1,501.3 L229.1,500.8 L230.2,500.3 L231.3,499.8 L232.4,499.4 L233.6,499.0 L234.7,498.6 L235.9,498.3 L237.1,497.9 L238.3,497.6 L239.5,497.3 L240.6,496.9 L241.8,496.6 L243.0,496.3 L244.2,496.0 L245.4,495.6 L246.6,495.3 L247.7,494.9 L248.9,494.6 L250.1,494.3 L251.2,493.9 L252.4,493.5 L253.6,493.2 L254.7,492.8 L255.9,492.5 L257.0,492.1 L258.2,491.7 L259.3,491.4 L260.5,491.0 L261.7,490.6 L262.8,490.3 L264.0,489.9 L265.1,489.5 L266.2,489.1 L267.4,488.8 L268.5,488.4 L269.7,488.0 L270.8,487.6 L272.0,487.2 L273.1,486.8 L274.3,486.5 L275.4,486.1 L276.6,485.7 L277.7,485.3 L278.8,484.9 L280.0,484.5 L281.1,484.2 L282.3,483.8 L283.4,483.4 L284.6,483.0 L285.7,482.7 L286.9,482.3 L288.0,481.9 L289.2,481.5 L290.3,481.2 L291.5,480.8 L292.6,480.4 L293.8,480.0 L294.9,479.7 L296.1,479.3 L297.3,479.0 L298.4,478.6 L299.6,478.3 L300.8,477.9 L301.9,477.6 L303.1,477.2" fill="none" stroke="#333" stroke-width="1.00" stroke-dasharray="1.6,1.5"/>
<path d="M156.1,525.2 C157.6,524.9 162.8,523.7 165.0,523.2 C167.2,522.7 167.0,522.6 169.2,522.0 C171.4,521.4 175.5,520.7 178.3,519.8 C181.1,518.9 184.9,517.0 186.2,516.5" fill="none" stroke="#44ee3a" stroke-width="1.25"/>
<path d="M210.4,500.8 C210.9,499.4 212.8,495.2 213.7,492.6 C214.6,490.0 214.9,487.9 215.6,485.1 C216.2,482.3 217.3,477.4 217.6,475.9" fill="none" stroke="#44ee3a" stroke-width="1.25" stroke-dasharray="5,1.5"/>
<line x1="178.3" y1="519.5" x2="178.3" y2="573.0" stroke="#44ee3a" stroke-width="1.25" stroke-dasharray="4,1.9,1.1,1.8"/>
<line x1="169.8" y1="525.0" x2="195.3" y2="516.3" stroke="#44ee3a" stroke-width="1.25" stroke-dasharray="4,1.9,1.1,1.8"/>
<line x1="212.1" y1="495.0" x2="212.1" y2="573.0" stroke="#44ee3a" stroke-width="1.25" stroke-dasharray="4,1.9,1.1,1.8"/>
<line x1="219.8" y1="460.2" x2="219.8" y2="573.0" stroke="#44ee3a" stroke-width="1.25" stroke-dasharray="4,1.9,1.1,1.8"/>
<line x1="210.4" y1="500.8" x2="224.1" y2="483.1" stroke="#44ee3a" stroke-width="1.25" stroke-dasharray="4,1.9,1.1,1.8"/>
<line x1="215.0" y1="473.3" x2="221.5" y2="460.2" stroke="#44ee3a" stroke-width="1.25" stroke-dasharray="4,1.9,1.1,1.8"/>
<line x1="213.9" y1="514.0" x2="213.9" y2="573.0" stroke="#3350f2" stroke-width="1.25" stroke-dasharray="1.5,2.6"/>
<line x1="221.5" y1="500.0" x2="221.5" y2="573.0" stroke="#3350f2" stroke-width="1.25" stroke-dasharray="1.5,2.6"/>
<path d="M209.0,517.5 C209.3,517.3 210.0,517.0 211.0,516.5 C212.0,516.0 213.8,515.6 215.0,514.6 C216.2,513.6 217.1,512.1 218.2,510.6 C219.3,509.1 220.5,506.6 221.5,505.4 C222.5,504.2 223.6,503.8 224.0,503.5" fill="none" stroke="#3350f2" stroke-width="1.25" stroke-dasharray="2.5,1"/>
<line x1="208.0" y1="520.5" x2="214.0" y2="515.0" stroke="#3350f2" stroke-width="1.25" stroke-dasharray="1.5,2.6"/>
<line x1="219.0" y1="505.0" x2="226.0" y2="498.0" stroke="#3350f2" stroke-width="1.25" stroke-dasharray="1.5,2.6"/>
<line x1="219.0" y1="512.0" x2="224.0" y2="508.0" stroke="#3350f2" stroke-width="1.25" stroke-dasharray="1.5,2.6"/>
<line x1="427.1" y1="343.6" x2="427.1" y2="573.8" stroke="#111" stroke-width="1.20"/>
<line x1="422.7" y1="569.4" x2="731.2" y2="569.4" stroke="#111" stroke-width="1.20"/>
<line x1="427.0" y1="569.4" x2="427.0" y2="573.8" stroke="#111" stroke-width="1.20"/>
<line x1="482.3" y1="569.4" x2="482.3" y2="573.8" stroke="#111" stroke-width="1.20"/>
<line x1="537.6" y1="569.4" x2="537.6" y2="573.8" stroke="#111" stroke-width="1.20"/>
<line x1="592.9" y1="569.4" x2="592.9" y2="573.8" stroke="#111" stroke-width="1.20"/>
<line x1="648.2" y1="569.4" x2="648.2" y2="573.8" stroke="#111" stroke-width="1.20"/>
<line x1="703.5" y1="569.4" x2="703.5" y2="573.8" stroke="#111" stroke-width="1.20"/>
<line x1="454.6" y1="569.4" x2="454.6" y2="571.7" stroke="#111" stroke-width="1.20"/>
<line x1="509.9" y1="569.4" x2="509.9" y2="571.7" stroke="#111" stroke-width="1.20"/>
<line x1="565.2" y1="569.4" x2="565.2" y2="571.7" stroke="#111" stroke-width="1.20"/>
<line x1="620.5" y1="569.4" x2="620.5" y2="571.7" stroke="#111" stroke-width="1.20"/>
<line x1="675.9" y1="569.4" x2="675.9" y2="571.7" stroke="#111" stroke-width="1.20"/>
<line x1="731.2" y1="569.4" x2="731.2" y2="571.7" stroke="#111" stroke-width="1.20"/>
<line x1="422.7" y1="569.4" x2="427.1" y2="569.4" stroke="#111" stroke-width="1.20"/>
<line x1="422.7" y1="504.9" x2="427.1" y2="504.9" stroke="#111" stroke-width="1.20"/>
<line x1="422.7" y1="440.4" x2="427.1" y2="440.4" stroke="#111" stroke-width="1.20"/>
<line x1="422.7" y1="375.9" x2="427.1" y2="375.9" stroke="#111" stroke-width="1.20"/>
<line x1="424.8" y1="537.1" x2="427.1" y2="537.1" stroke="#111" stroke-width="1.20"/>
<line x1="424.8" y1="472.6" x2="427.1" y2="472.6" stroke="#111" stroke-width="1.20"/>
<line x1="424.8" y1="408.1" x2="427.1" y2="408.1" stroke="#111" stroke-width="1.20"/>
<text x="427.0" y="587.6" font-size="11.20" text-anchor="middle">0</text>
<text x="482.3" y="587.6" font-size="11.20" text-anchor="middle">200</text>
<text x="537.6" y="587.6" font-size="11.20" text-anchor="middle">400</text>
<text x="592.9" y="587.6" font-size="11.20" text-anchor="middle">600</text>
<text x="648.2" y="587.6" font-size="11.20" text-anchor="middle">800</text>
<text x="703.5" y="587.6" font-size="11.20" text-anchor="middle">1000</text>
<text x="418.5" y="573.3" font-size="11.00" text-anchor="end">0.0</text>
<text x="418.5" y="508.8" font-size="11.00" text-anchor="end">0.2</text>
<text x="418.5" y="444.3" font-size="11.00" text-anchor="end">0.4</text>
<text x="418.5" y="379.8" font-size="11.00" text-anchor="end">0.6</text>
<line x1="424.7" y1="353.4" x2="427.1" y2="353.4" stroke="#111" stroke-width="1.20"/>
<text x="368.6" y="354.2" font-size="18.80" font-weight="bold" textLength="24.6" lengthAdjust="spacingAndGlyphs">(d)</text>
<text x="539.6" y="605.3" font-size="13.00">Temperature (°C)</text>
<text transform="translate(390.8,534) rotate(-90)" font-size="13.0" textLength="133.9" lengthAdjust="spacingAndGlyphs">Thermal expansion (%)</text>
<line x1="461.1" y1="355.2" x2="488.7" y2="355.2" stroke="#666" stroke-width="1.20"/>
<line x1="461.1" y1="368.0" x2="488.7" y2="368.0" stroke="#666" stroke-width="1.20"/>
<line x1="461.1" y1="380.9" x2="488.7" y2="380.9" stroke="#999" stroke-width="1.00" stroke-dasharray="1.2,1.2"/>
<text x="492.6" y="358.8" font-size="10.60">U-50Zr</text>
<text x="492.6" y="371.8" font-size="10.60">U-60Zr</text>
<text x="492.6" y="384.6" font-size="10.60">U-70Zr</text>
<path d="M435.3,568.9 L436.4,568.5 L437.5,568.0 L438.6,567.6 L439.7,567.1 L440.8,566.7 L441.9,566.2 L443.0,565.8 L444.1,565.3 L445.2,564.8 L446.3,564.3 L447.4,563.8 L448.5,563.3 L449.6,562.8 L450.7,562.3 L451.8,561.8 L452.9,561.3 L454.0,560.8 L455.1,560.3 L456.2,559.8 L457.3,559.3 L458.4,558.7 L459.5,558.2 L460.6,557.7 L461.7,557.1 L462.8,556.6 L463.9,556.1 L465.0,555.5 L466.1,555.0 L467.2,554.5 L468.3,553.9 L469.4,553.4 L470.4,552.8 L471.5,552.3 L472.6,551.7 L473.7,551.2 L474.8,550.7 L475.9,550.1 L477.0,549.6 L478.0,549.0 L479.1,548.5 L480.2,547.9 L481.3,547.4 L482.3,546.8 L483.4,546.3 L484.5,545.7 L485.6,545.2 L486.6,544.6 L487.7,544.0 L488.8,543.5 L489.8,542.9 L490.9,542.3 L492.0,541.8 L493.0,541.2 L494.1,540.6 L495.1,540.0 L496.2,539.5 L497.2,538.9 L498.3,538.3 L499.3,537.7 L500.4,537.1 L501.4,536.5 L502.4,535.9 L503.5,535.3 L504.5,534.7 L505.5,534.1 L506.6,533.4 L507.6,532.8 L508.6,532.2 L509.6,531.5 L510.7,530.9 L511.7,530.3 L512.7,529.6 L513.7,529.0 L514.7,528.3 L515.7,527.7 L516.7,527.0 L517.7,526.4 L518.8,525.7 L519.8,525.0 L520.8,524.4 L521.8,523.7 L522.7,523.0 L523.7,522.3 L524.7,521.6 L525.7,521.0 L526.7,520.3 L527.7,519.6 L528.7,518.9 L529.7,518.2 L530.7,517.5 L531.6,516.8 L532.6,516.1 L533.6,515.4 L534.6,514.7 L535.6,514.0 L536.5,513.2 L537.5,512.5 L538.5,511.8 L539.5,511.1 L540.4,510.4 L541.4,509.7 L542.4,508.9 L543.3,508.2 L544.3,507.5 L545.3,506.8 L546.2,506.0 L547.2,505.3 L548.2,504.6 L549.1,503.8 L550.1,503.1 L551.0,502.4 L552.0,501.6 L553.0,500.9 L553.9,500.1 L554.9,499.4 L555.9,498.7 L556.8,497.9 L557.8,497.2 L558.7,496.5 L559.7,495.7 L560.7,495.0 L561.6,494.2 L562.6,493.5 L563.5,492.7 L564.5,492.0 L565.4,491.3 L566.4,490.5 L567.4,489.8 L568.3,489.0 L569.3,488.3 L570.2,487.6 L571.2,486.8 L572.2,486.1 L573.1,485.3 L574.1,484.6 L575.0,483.9 L576.0,483.1 L577.0,482.4 L577.9,481.7 L578.9,480.9 L579.8,480.2 L580.8,479.4 L581.7,478.6 L582.6,477.9 L583.5,477.1 L584.4,476.3 L585.2,475.4 L586.1,474.6 L586.9,473.7 L587.7,472.9 L588.5,472.0 L589.2,471.0 L589.9,470.1 L590.6,469.1 L591.2,468.1 L591.9,467.0 L592.4,466.0 L593.0,464.9 L593.5,463.8 L594.0,462.6 L594.4,461.5 L594.8,460.3 L595.2,459.2 L595.5,458.0 L595.9,456.9 L596.2,455.7 L596.5,454.6 L596.8,453.4 L597.2,452.3 L597.5,451.2 L597.9,450.1 L598.4,449.0 L598.9,447.9 L599.4,446.9 L600.0,445.9 L600.6,444.9 L601.3,444.0 L602.1,443.0 L602.9,442.1 L603.7,441.2 L604.6,440.4 L605.5,439.5 L606.4,438.7 L607.3,437.9 L608.3,437.2 L609.2,436.5 L610.2,435.7 L611.2,435.1 L612.2,434.4 L613.2,433.7 L614.2,433.1 L615.2,432.5 L616.2,431.8 L617.2,431.2 L618.2,430.6 L619.3,430.0 L620.3,429.4 L621.4,428.8 L622.4,428.2 L623.4,427.6 L624.5,427.0 L625.5,426.4 L626.6,425.8 L627.6,425.2 L628.6,424.5 L629.7,423.9 L630.7,423.2 L631.8,422.6 L632.8,421.9 L633.9,421.3 L634.9,420.6 L635.9,420.0 L637.0,419.3 L638.0,418.7 L639.1,418.0 L640.1,417.4 L641.2,416.8 L642.2,416.1 L643.2,415.5 L644.3,414.9 L645.3,414.2 L646.4,413.6 L647.4,413.0 L648.4,412.4 L649.5,411.8 L650.5,411.2 L651.6,410.6 L652.6,410.1 L653.7,409.5 L654.7,408.9 L655.7,408.4 L656.8,407.8 L657.8,407.2 L658.9,406.7 L659.9,406.1 L660.9,405.6 L662.0,405.0 L663.0,404.4 L664.1,403.9 L665.1,403.3 L666.1,402.7 L667.2,402.1 L668.2,401.5 L669.3,400.9 L670.3,400.3 L671.3,399.6 L672.4,399.0 L673.4,398.4 L674.4,397.7 L675.5,397.1 L676.5,396.4 L677.6,395.8 L678.6,395.1 L679.6,394.4 L680.7,393.8 L681.7,393.1 L682.7,392.5 L683.8,391.9 L684.8,391.2 L685.9,390.6 L686.9,390.0 L687.9,389.4 L689.0,388.8 L690.0,388.2 L691.0,387.6 L692.1,387.0 L693.1,386.4 L694.1,385.8 L695.2,385.2 L696.2,384.5 L697.2,383.9 L698.3,383.3 L699.3,382.7 L700.3,382.1 L701.4,381.4 L702.4,380.8" fill="none" stroke="#8a8a8a" stroke-width="1.00" stroke-dasharray="1.3,1"/>
<path d="M435.3,568.9 L436.3,568.3 L437.4,567.7 L438.4,567.1 L439.4,566.5 L440.5,565.9 L441.5,565.3 L442.6,564.7 L443.6,564.1 L444.7,563.5 L445.7,562.9 L446.8,562.4 L447.8,561.8 L448.9,561.2 L450.0,560.7 L451.0,560.1 L452.1,559.5 L453.2,559.0 L454.2,558.4 L455.3,557.9 L456.4,557.3 L457.5,556.8 L458.5,556.2 L459.6,555.7 L460.7,555.2 L461.8,554.6 L462.8,554.1 L463.9,553.5 L465.0,553.0 L466.1,552.5 L467.2,551.9 L468.3,551.4 L469.3,550.9 L470.4,550.4 L471.5,549.8 L472.6,549.3 L473.7,548.8 L474.8,548.2 L475.9,547.7 L476.9,547.2 L478.0,546.6 L479.1,546.1 L480.2,545.6 L481.3,545.1 L482.4,544.5 L483.4,544.0 L484.5,543.5 L485.6,542.9 L486.7,542.4 L487.8,541.8 L488.8,541.3 L489.9,540.8 L491.0,540.2 L492.1,539.7 L493.1,539.1 L494.2,538.6 L495.3,538.0 L496.4,537.5 L497.4,536.9 L498.5,536.3 L499.6,535.8 L500.6,535.2 L501.7,534.6 L502.7,534.1 L503.8,533.5 L504.8,532.9 L505.9,532.3 L506.9,531.7 L508.0,531.1 L509.0,530.5 L510.1,529.9 L511.1,529.3 L512.1,528.7 L513.2,528.1 L514.2,527.5 L515.2,526.8 L516.2,526.2 L517.3,525.6 L518.3,525.0 L519.3,524.3 L520.3,523.7 L521.3,523.0 L522.3,522.4 L523.4,521.8 L524.4,521.1 L525.4,520.4 L526.4,519.8 L527.4,519.1 L528.4,518.5 L529.4,517.8 L530.4,517.1 L531.4,516.4 L532.4,515.8 L533.3,515.1 L534.3,514.4 L535.3,513.7 L536.3,513.0 L537.3,512.3 L538.3,511.7 L539.3,511.0 L540.2,510.3 L541.2,509.6 L542.2,508.9 L543.2,508.2 L544.1,507.4 L545.1,506.7 L546.1,506.0 L547.1,505.3 L548.0,504.6 L549.0,503.9 L550.0,503.2 L550.9,502.4 L551.9,501.7 L552.8,501.0 L553.8,500.3 L554.8,499.5 L555.7,498.8 L556.7,498.1 L557.6,497.3 L558.6,496.6 L559.6,495.9 L560.5,495.1 L561.5,494.4 L562.4,493.6 L563.4,492.9 L564.3,492.2 L565.3,491.4 L566.2,490.7 L567.2,489.9 L568.1,489.2 L569.0,488.4 L570.0,487.7 L570.9,486.9 L571.9,486.2 L572.8,485.4 L573.8,484.6 L574.7,483.9 L575.7,483.1 L576.6,482.4 L577.5,481.6 L578.5,480.9 L579.4,480.1 L580.4,479.3 L581.3,478.6 L582.2,477.8 L583.1,477.0 L584.0,476.2 L584.9,475.4 L585.8,474.6 L586.7,473.8 L587.5,472.9 L588.3,472.1 L589.1,471.2 L589.8,470.2 L590.6,469.3 L591.2,468.3 L591.9,467.4 L592.5,466.3 L593.1,465.3 L593.6,464.2 L594.1,463.2 L594.6,462.1 L595.0,460.9 L595.4,459.8 L595.7,458.6 L596.0,457.5 L596.3,456.3 L596.6,455.1 L596.9,453.9 L597.1,452.7 L597.3,451.5 L597.6,450.3 L597.8,449.0 L598.0,447.8 L598.2,446.6 L598.4,445.4 L598.7,444.2 L598.9,443.0 L599.2,441.9 L599.5,440.7 L599.8,439.6 L600.1,438.4 L600.5,437.3 L601.0,436.2 L601.5,435.2 L602.0,434.1 L602.6,433.1 L603.2,432.2 L603.9,431.2 L604.6,430.3 L605.4,429.4 L606.2,428.6 L607.1,427.8 L608.0,427.0 L608.9,426.3 L609.9,425.6 L610.8,424.9 L611.8,424.3 L612.9,423.7 L613.9,423.1 L615.0,422.6 L616.0,422.1 L617.1,421.5 L618.2,421.0 L619.3,420.5 L620.4,420.0 L621.5,419.5 L622.6,419.0 L623.7,418.4 L624.8,417.9 L625.9,417.4 L627.0,416.8 L628.0,416.2 L629.1,415.6 L630.2,415.1 L631.2,414.5 L632.3,413.8 L633.3,413.2 L634.3,412.6 L635.3,411.9 L636.4,411.3 L637.4,410.6 L638.4,410.0 L639.4,409.3 L640.4,408.6 L641.4,407.9 L642.4,407.2 L643.4,406.5 L644.4,405.8 L645.3,405.1 L646.3,404.4 L647.3,403.6 L648.2,402.9 L649.2,402.2 L650.2,401.4 L651.1,400.7 L652.1,399.9 L653.0,399.2 L654.0,398.4 L654.9,397.7 L655.8,396.9 L656.8,396.2 L657.7,395.4 L658.7,394.7 L659.6,393.9 L660.5,393.1 L661.5,392.4 L662.4,391.6 L663.3,390.9 L664.2,390.1 L665.2,389.3 L666.1,388.6 L667.0,387.8 L667.9,387.1 L668.9,386.3 L669.8,385.6 L670.7,384.8 L671.6,384.1 L672.6,383.3 L673.5,382.6 L674.4,381.8 L675.4,381.1 L676.3,380.3 L677.2,379.6 L678.1,378.8 L679.1,378.1 L680.0,377.4 L681.0,376.6 L681.9,375.9 L682.8,375.2 L683.8,374.4 L684.7,373.7 L685.7,373.0 L686.6,372.2 L687.6,371.5 L688.5,370.8 L689.5,370.1 L690.5,369.4 L691.4,368.6 L692.4,367.9 L693.4,367.2 L694.4,366.5 L695.4,365.8 L696.4,365.1 L697.4,364.4 L698.4,363.7 L699.4,363.0 L700.4,362.3 L701.4,361.6 L702.4,360.9" fill="none" stroke="#444" stroke-width="1.00"/>
<path d="M435.3,568.9 L436.5,568.6 L437.6,568.4 L438.8,568.1 L440.0,567.8 L441.1,567.5 L442.3,567.2 L443.4,566.9 L444.6,566.5 L445.8,566.1 L446.9,565.8 L448.1,565.4 L449.2,565.0 L450.4,564.6 L451.5,564.2 L452.6,563.7 L453.8,563.3 L454.9,562.9 L456.1,562.4 L457.2,562.0 L458.3,561.5 L459.5,561.1 L460.6,560.6 L461.7,560.1 L462.9,559.7 L464.0,559.2 L465.1,558.8 L466.2,558.3 L467.4,557.8 L468.5,557.4 L469.6,556.9 L470.7,556.4 L471.8,556.0 L472.9,555.5 L474.1,555.0 L475.2,554.6 L476.3,554.1 L477.4,553.6 L478.5,553.2 L479.6,552.7 L480.7,552.2 L481.8,551.8 L482.9,551.3 L484.0,550.8 L485.1,550.3 L486.2,549.9 L487.3,549.4 L488.4,548.9 L489.5,548.4 L490.6,547.9 L491.7,547.4 L492.8,546.9 L493.9,546.5 L495.0,546.0 L496.1,545.5 L497.1,544.9 L498.2,544.4 L499.3,543.9 L500.4,543.4 L501.5,542.9 L502.6,542.4 L503.6,541.8 L504.7,541.3 L505.8,540.8 L506.9,540.3 L508.0,539.7 L509.0,539.2 L510.1,538.6 L511.2,538.1 L512.3,537.5 L513.4,537.0 L514.4,536.4 L515.5,535.9 L516.6,535.3 L517.7,534.8 L518.7,534.2 L519.8,533.7 L520.9,533.1 L521.9,532.5 L523.0,532.0 L524.1,531.4 L525.1,530.8 L526.2,530.2 L527.3,529.7 L528.4,529.1 L529.4,528.5 L530.5,527.9 L531.6,527.4 L532.6,526.8 L533.7,526.2 L534.8,525.6 L535.8,525.0 L536.9,524.5 L538.0,523.9 L539.0,523.3 L540.1,522.7 L541.2,522.1 L542.2,521.5 L543.3,520.9 L544.3,520.4 L545.4,519.8 L546.5,519.2 L547.5,518.6 L548.6,518.0 L549.7,517.4 L550.7,516.8 L551.8,516.3 L552.9,515.7 L553.9,515.1 L555.0,514.5 L556.1,513.9 L557.1,513.3 L558.2,512.8 L559.3,512.2 L560.3,511.6 L561.4,511.0 L562.5,510.4 L563.5,509.9 L564.6,509.3 L565.7,508.7 L566.7,508.1 L567.8,507.6 L568.9,507.0 L569.9,506.4 L571.0,505.9 L572.1,505.3 L573.1,504.7 L574.2,504.2 L575.3,503.6 L576.4,503.0 L577.4,502.5 L578.5,501.9 L579.5,501.3 L580.6,500.7 L581.6,500.1 L582.6,499.5 L583.6,498.8 L584.6,498.2 L585.5,497.5 L586.4,496.8 L587.4,496.0 L588.2,495.2 L589.1,494.4 L589.9,493.6 L590.7,492.7 L591.4,491.7 L592.1,490.8 L592.8,489.7 L593.3,488.7 L593.9,487.7 L594.4,486.6 L594.8,485.4 L595.2,484.3 L595.6,483.2 L596.1,482.0 L596.5,480.9 L596.9,479.8 L597.4,478.7 L598.0,477.6 L598.6,476.7 L599.3,475.7 L600.1,474.9 L600.9,474.0 L601.8,473.2 L602.7,472.5 L603.7,471.8 L604.6,471.1 L605.6,470.4 L606.7,469.8 L607.7,469.2 L608.8,468.6 L609.8,468.0 L610.9,467.4 L612.0,466.9 L613.1,466.3 L614.2,465.8 L615.3,465.3 L616.4,464.8 L617.5,464.2 L618.6,463.7 L619.7,463.2 L620.8,462.7 L621.9,462.2 L623.0,461.7 L624.1,461.2 L625.2,460.7 L626.3,460.2 L627.4,459.7 L628.5,459.2 L629.6,458.7 L630.7,458.2 L631.8,457.7 L632.9,457.2 L633.9,456.6 L635.0,456.1 L636.1,455.6 L637.2,455.1 L638.3,454.5 L639.4,454.0 L640.5,453.5 L641.6,452.9 L642.6,452.4 L643.7,451.9 L644.8,451.3 L645.9,450.8 L647.0,450.2 L648.1,449.7 L649.1,449.1 L650.2,448.6 L651.3,448.1 L652.4,447.5 L653.4,447.0 L654.5,446.4 L655.6,445.9 L656.7,445.3 L657.8,444.8 L658.8,444.2 L659.9,443.7 L661.0,443.1 L662.1,442.6 L663.1,442.0 L664.2,441.5 L665.3,441.0 L666.4,440.4 L667.4,439.9 L668.5,439.3 L669.6,438.8 L670.7,438.2 L671.8,437.7 L672.8,437.2 L673.9,436.6 L675.0,436.1 L676.1,435.5 L677.2,435.0 L678.3,434.5 L679.3,433.9 L680.4,433.4 L681.5,432.9 L682.6,432.4 L683.7,431.8 L684.8,431.3 L685.9,430.8 L687.0,430.3 L688.1,429.8 L689.2,429.2 L690.2,428.7 L691.3,428.2 L692.4,427.7 L693.5,427.2 L694.6,426.7 L695.7,426.2 L696.9,425.7 L698.0,425.2 L699.1,424.7 L700.2,424.3 L701.3,423.8 L702.4,423.3" fill="none" stroke="#333" stroke-width="1.20"/>
</svg>
</body></html>
